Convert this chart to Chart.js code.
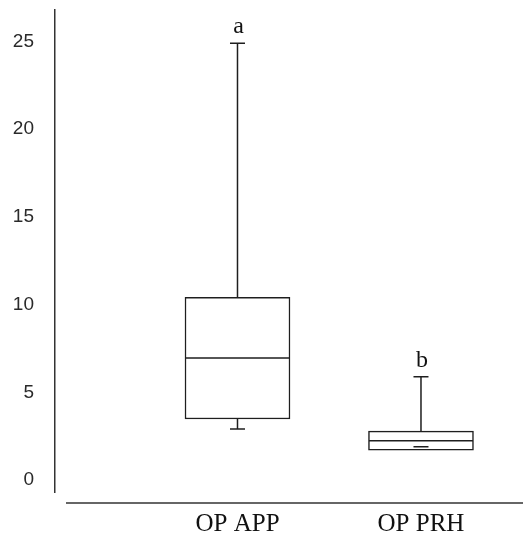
<!DOCTYPE html>
<html>
<head>
<meta charset="utf-8">
<script src="https://cdn.jsdelivr.net/npm/chart.js@4/dist/chart.umd.min.js"></script>
<style>
    html, body { margin: 0; padding: 0; background: #fff; }
    #wrap { width: 523px; height: 538px; }
</style>
</head>
<body>
<div id="wrap"><canvas id="boxChart"></canvas></div>
<script>
// Box plot values
const categories = ['OP APP', 'OP PRH'];
const whiskerLow = [2.91, null];
const q1 = [3.48, 1.71];
const median = [6.96, 2.24];
const q3 = [10.42, 2.79];
const whiskerHigh = [24.9, 5.89];
const marker = [null, 1.9];
const groupLetters = ['a', 'b'];
const yTicks = [0, 5, 10, 15, 20, 25];

const lineColor = '#1e1e1e';
const xPos = categories.map((c, i) => i + 1);

// whisker segments: from box edge out to the cap
function whiskerData(from, to) {
    const pts = [];
    xPos.forEach((x, i) => {
        if (to[i] == null) return;
        pts.push({ x: x, y: from[i] }, { x: x, y: to[i] }, { x: x, y: null });
    });
    return pts;
}
function capRadius(to) {
    const r = [];
    xPos.forEach((x, i) => {
        if (to[i] == null) return;
        r.push(0, 7.5, 0);
    });
    return r;
}

// x axis baseline and significance letters
const extrasPlugin = {
    id: 'extras',
    afterDraw(chart) {
        const { ctx, chartArea, scales } = chart;
        ctx.save();
        ctx.strokeStyle = '#333';
        ctx.lineWidth = 1.5;
        ctx.beginPath();
        ctx.moveTo(chartArea.left + 11, chartArea.bottom + 11);
        ctx.lineTo(chartArea.right, chartArea.bottom + 11);
        ctx.stroke();

        ctx.fillStyle = '#111';
        ctx.font = '24px "Liberation Serif", serif';
        ctx.textAlign = 'center';
        ctx.textBaseline = 'alphabetic';
        groupLetters.forEach((letter, i) => {
            const x = scales.x.getPixelForValue(xPos[i]);
            const y = scales.y.getPixelForValue(whiskerHigh[i]);
            ctx.fillText(letter, x + 1, y - 10);
        });
        ctx.restore();
    }
};

new Chart(document.getElementById('boxChart'), {
    data: {
        datasets: [{
            type: 'line',
            data: whiskerData(q3, whiskerHigh),
            borderColor: lineColor,
            borderWidth: 1.5,
            pointStyle: 'line',
            pointRadius: capRadius(whiskerHigh),
            pointBorderColor: lineColor,
            pointBorderWidth: 1.5,
            spanGaps: false,
            order: 3
        }, {
            type: 'line',
            data: whiskerData(q1, whiskerLow),
            borderColor: lineColor,
            borderWidth: 1.5,
            pointStyle: 'line',
            pointRadius: capRadius(whiskerLow),
            pointBorderColor: lineColor,
            pointBorderWidth: 1.5,
            spanGaps: false,
            order: 3
        }, {
            type: 'bar',
            data: xPos.map((x, i) => ({ x: x, y: [q1[i], q3[i]] })),
            backgroundColor: '#fff',
            borderColor: lineColor,
            borderWidth: 1.5,
            borderSkipped: false,
            barThickness: 105,
            grouped: false,
            order: 2
        }, {
            // median line across the box
            type: 'scatter',
            data: xPos.map((x, i) => ({ x: x, y: median[i] })),
            pointStyle: 'line',
            pointRadius: 52,
            borderColor: lineColor,
            pointBorderColor: lineColor,
            pointBorderWidth: 1.5,
            order: 1
        }, {
            type: 'scatter',
            data: xPos.map((x, i) => ({ x: x, y: marker[i] })).filter(p => p.y != null),
            pointStyle: 'line',
            pointRadius: 7.5,
            borderColor: lineColor,
            pointBorderColor: lineColor,
            pointBorderWidth: 1.5,
            order: 0
        }]
    },
    options: {
        responsive: true,
        maintainAspectRatio: false,
        animation: false,
        events: [],
        layout: {
            autoPadding: false,
            padding: { top: 9.6, left: 0, right: 0, bottom: 0 }
        },
        plugins: {
            legend: { display: false },
            tooltip: { enabled: false }
        },
        scales: {
            x: {
                type: 'linear',
                offset: false,
                bounds: 'data',
                min: 0.0054,
                max: 2.556,
                grid: { display: false, drawTicks: false },
                border: { display: false },
                afterBuildTicks: (scale) => {
                    scale.ticks = xPos.map(v => ({ value: v }));
                },
                afterFit: (scale) => {
                    scale.height = 46;
                    scale.paddingLeft = 0;
                    scale.paddingRight = 0;
                },
                ticks: {
                    padding: 17,
                    color: '#111',
                    font: { family: '"Liberation Serif", serif', size: 25 },
                    callback: (value, index) => categories[index]
                }
            },
            y: {
                min: -0.68,
                max: 26.82,
                grid: { display: false, drawTicks: false },
                border: { display: true, color: '#333', width: 1.5 },
                afterBuildTicks: (scale) => {
                    scale.ticks = yTicks.map(v => ({ value: v }));
                },
                afterFit: (scale) => {
                    scale.width = 55;
                    scale.paddingTop = 0;
                    scale.paddingBottom = 0;
                },
                ticks: {
                    padding: 21,
                    color: '#2a2a2a',
                    font: { family: '"Liberation Sans", Arial, sans-serif', size: 19 }
                }
            }
        }
    },
    plugins: [extrasPlugin]
});
</script>
</body>
</html>
